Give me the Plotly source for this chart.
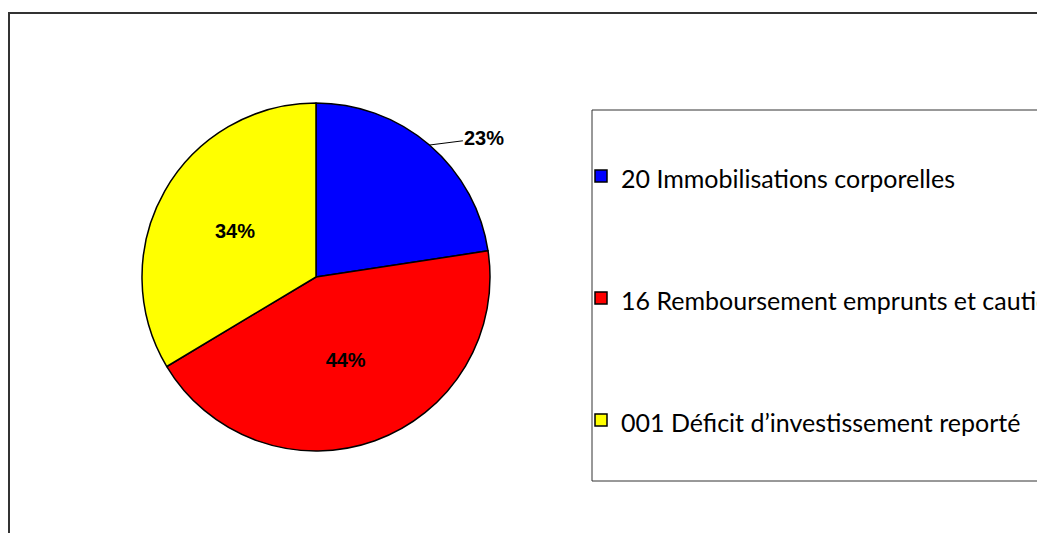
import math
import plotly.graph_objects as go

categories = [
    "20 Immobilisations corporelles",
    "16 Remboursement emprunts et cautions",
    "001 Déficit d’investissement reporté",
]
values = [22.6, 43.8, 33.6]
colors = ["#0000FF", "#FF0000", "#FFFF00"]

W, H = 1045, 533
cx, cy, R = 308, 269, 174

# legend labels padded with blank lines to spread items vertically
legend_labels = ["<br><span style='font-size:25px'>" + c + "</span><br>" for c in categories]

total = sum(values)
texts = [""] + ["<b>%{percent:.0%}</b>"] * (len(values) - 1)

fig = go.Figure()
fig.add_trace(go.Pie(
    labels=legend_labels,
    values=values,
    sort=False,
    direction="clockwise",
    rotation=0,
    marker=dict(colors=colors, line=dict(color="black", width=1.5)),
    texttemplate=texts,
    textposition="inside",
    insidetextorientation="horizontal",
    textfont=dict(family="Liberation Sans, Arial", size=20, color="black"),
    domain=dict(x=[(cx - R) / W, (cx + R) / W],
                y=[1 - (cy + R) / H, 1 - (cy - R) / H]),
    hoverinfo="percent",
))

# outside label for first slice with leader line
a = 2 * math.pi * (values[0] / 2) / total
px = cx + R * math.sin(a)
py = cy - R * math.cos(a)
fig.add_annotation(
    x=px / W, y=1 - py / H, xref="paper", yref="paper",
    text="<b>{:.0%}</b>".format(values[0] / total),
    showarrow=True, arrowhead=0, arrowwidth=1, arrowcolor="black",
    ax=55, ay=-7,
    font=dict(family="Liberation Sans, Arial", size=20, color="black"),
)

# outer chart frame
fig.add_shape(type="rect", xref="paper", yref="paper",
              x0=1 / W, x1=1.02, y0=-0.05, y1=1 - 5 / H,
              line=dict(color="#333333", width=2), fillcolor="rgba(0,0,0,0)")
# legend frame
fig.add_shape(type="rect", xref="paper", yref="paper",
              x0=584 / W, x1=1.02, y0=1 - 473 / H, y1=1 - 102 / H,
              line=dict(color="#333333", width=1), fillcolor="rgba(0,0,0,0)")

fig.update_layout(
    width=W, height=H,
    margin=dict(l=0, r=0, t=0, b=0, autoexpand=False),
    paper_bgcolor="white",
    plot_bgcolor="white",
    showlegend=True,
    legend=dict(
        x=573 / W, y=1 - 290 / H, xanchor="left", yanchor="middle",
        bgcolor="rgba(0,0,0,0)", borderwidth=0,
        font=dict(family="Lato, Carlito, Calibri", size=30.5, color="black"),
        valign="middle",
    ),
)

fig.write_html("out.html")
